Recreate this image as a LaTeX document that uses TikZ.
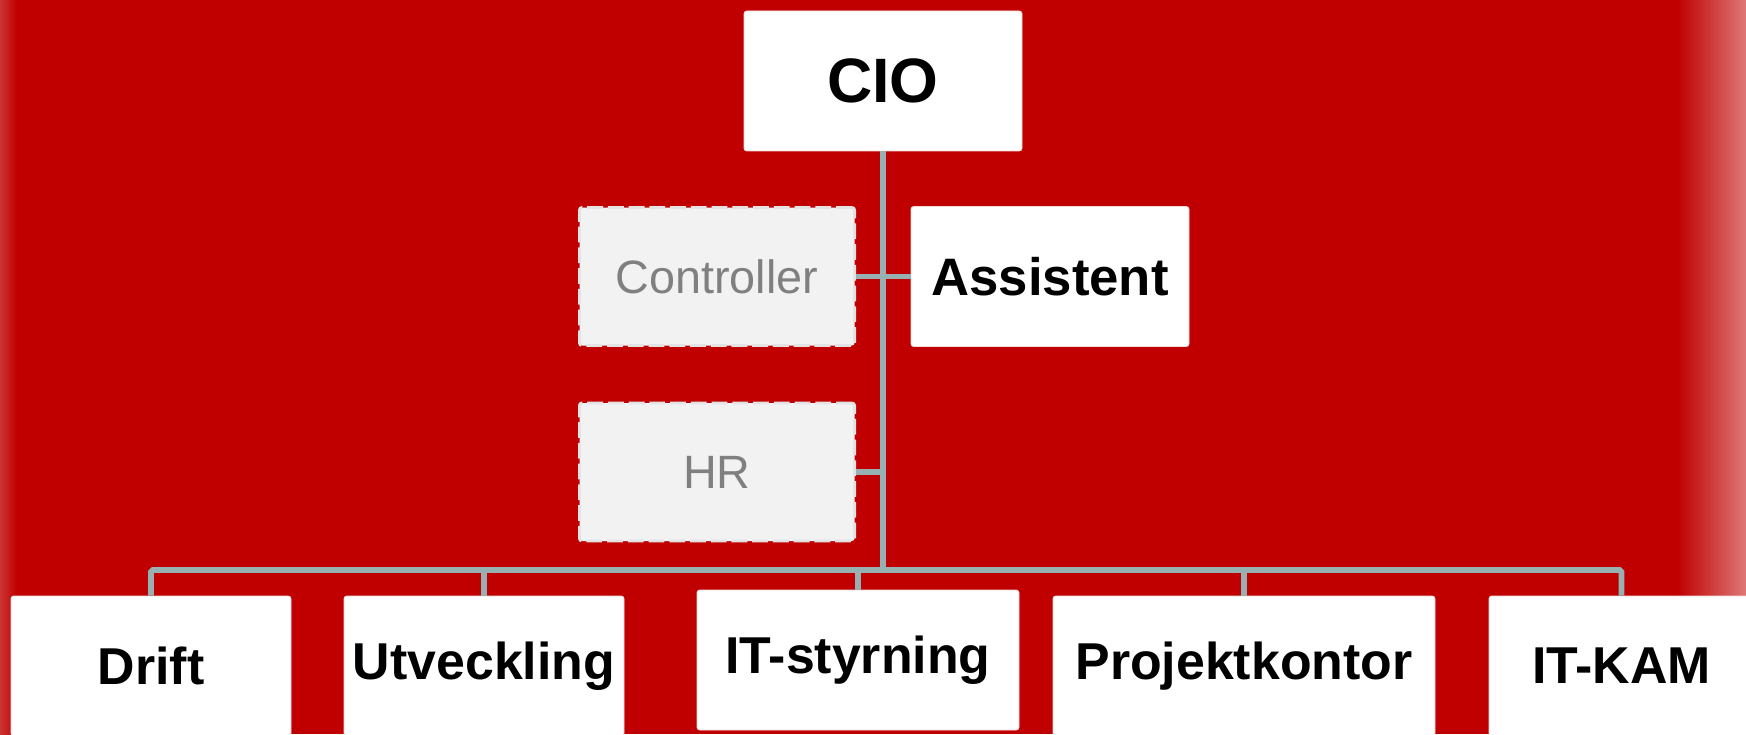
\documentclass[tikz,border=0pt]{standalone}
\usepackage{fontspec}
\setmainfont{Liberation Sans}

\definecolor{bgred}{HTML}{C00000}
\definecolor{bgfade}{HTML}{DE7878}
\definecolor{bgedge}{HTML}{CC3434}
\definecolor{linegray}{HTML}{97B0B2}
\definecolor{staffgray}{HTML}{F2F2F2}
\definecolor{staffborder}{HTML}{E3E3E3}
\definecolor{stafftext}{HTML}{808080}

\begin{document}
\begin{tikzpicture}[
  unit/.style = {fill = white, draw = white!85!bgred, line width = 0.4pt,
                 rounded corners = 1.5pt, minimum height = 2.8cm,
                 font = \bfseries\fontsize{29.5}{34}\selectfont},
  staff/.style = {fill = staffgray, draw = staffborder, line width = 1.7pt,
                  dash pattern = on 9pt off 2.8pt, rounded corners = 1.5pt,
                  minimum width = 5.5cm, minimum height = 2.76cm,
                  text = stafftext, font = \fontsize{26.6}{31}\selectfont},
  conn/.style = {linegray, line width = 3.2pt, rounded corners = 1pt}
]
% Background with faded edges
\clip (0,0) rectangle (34.92,14.68);
\fill[bgred] (0,0) rectangle (34.92,14.68);
\shade[left color = bgred, right color = bgfade] (33.55,0) rectangle (34.92,14.68);
\shade[left color = bgedge, right color = bgred] (0,0) rectangle (0.34,14.68);

% Top of the chart
\node[unit, minimum width = 5.56cm, font = \bfseries\fontsize{35.7}{40}\selectfont]
  (cio) at (17.66,13.06) {CIO};

% Staff functions beside the line
\node[staff] (ctrl) at (14.34,9.15) {Controller};
\node[staff] (hr) at (14.34,5.24) {HR};
\node[unit, minimum width = 5.56cm, font = \bfseries\fontsize{30}{35}\selectfont]
  (assist) at (21.0,9.15) {Assistent};

% Departments along the bottom
\node[unit, minimum width = 5.6cm] (drift) at (3.02,1.36) {Drift};
\node[unit, minimum width = 5.6cm] (utv) at (9.68,1.36) {Utveckling};
\node[unit, minimum width = 6.44cm] (styr) at (17.16,1.48) {IT-styrning};
\node[unit, minimum width = 7.64cm] (proj) at (24.88,1.36) {Projektkontor};
\node[unit, minimum width = 5.3cm] (kam) at (32.43,1.36) {IT-KAM};

% Line from CIO down to the department bar
\coordinate (hub) at (17.66,3.28);
\draw[conn] (cio.south) -- (hub);
\draw[conn] (ctrl.east) -- (ctrl.east -| hub);
\draw[conn] (assist.west) -- (assist.west -| hub);
\draw[conn] (hr.east) -- (hr.east -| hub);

% Department bar
\draw[conn] (drift.north) |- (hub) -| (kam.north);
\draw[conn] (utv.north) -- (utv.north |- hub);
\draw[conn] (styr.north) -- (styr.north |- hub);
\draw[conn] (proj.north) -- (proj.north |- hub);

\end{tikzpicture}
\end{document}
